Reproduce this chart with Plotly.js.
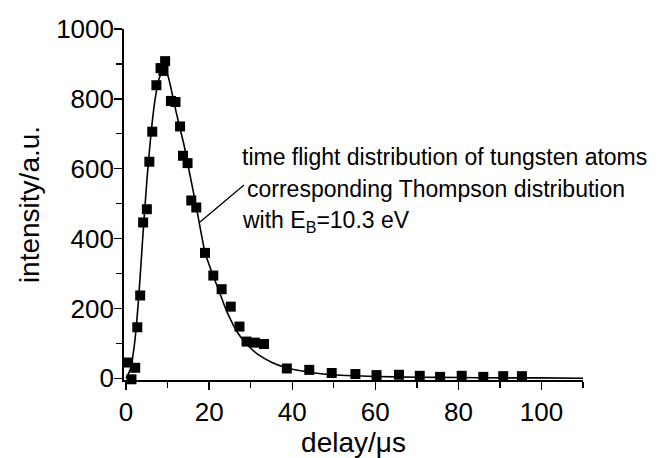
<!DOCTYPE html>
<html>
<head>
<meta charset="utf-8">
<script src="https://cdn.plot.ly/plotly-3.0.1.min.js"></script>
<style>
  html, body { margin: 0; padding: 0; background: #fff; }
  #chart { width: 662px; height: 458px; }
</style>
</head>
<body>
<div id="chart"></div>
<script>
// measured time-of-flight points (delay in µs, intensity in a.u.)
const delayMeasured = [-1, 0.5, 1.3, 2.2, 2.7, 3.4, 4.1, 5.0, 5.6, 6.3, 7.3, 8.3, 9.0, 9.4,
  10.8, 11.9, 13.0, 13.7, 14.8, 15.7, 16.9, 19.0, 21.0, 23.0, 25.2, 27.3, 29.0, 31.0, 33.2,
  38.7, 44.1, 49.5, 55.2, 60.3, 65.7, 70.7, 75.6, 80.8, 86.0, 90.8, 95.3];
const intensityMeasured = [16, 45, -3, 30, 146, 237, 446, 484, 620, 706, 839, 888, 880, 908,
  794, 791, 721, 637, 616, 509, 489, 359, 294, 255, 205, 148, 105, 102, 98,
  28, 24, 15, 12, 9, 10, 7, 4, 7, 4, 6, 6];

// Thompson distribution fit
const delayFit = [0, 1, 2, 3, 4, 5, 6, 7, 8, 9, 10, 11, 12, 13, 14, 15, 16, 17, 18, 19, 20,
  21, 22, 23, 24, 25, 26, 27, 28, 30, 32, 35, 38, 40, 45, 50, 60, 70, 80, 90, 100, 110];
const intensityFit = [0, 25, 95, 225, 400, 565, 700, 800, 860, 882, 868, 820, 765, 715, 665,
  605, 545, 485, 420, 360, 325, 292, 262, 230, 198, 172, 148, 128, 112, 86, 66, 46, 32, 26,
  16, 10, 5, 3, 2, 1, 1, 0];

const xTickVals = [0, 20, 40, 60, 80, 100];
const yTickVals = [0, 200, 400, 600, 800, 1000];

const legendLines = [
  'time flight distribution of tungsten atoms',
  'corresponding Thompson distribution',
  'with E<sub>B</sub>=10.3 eV'
];

const FONT = 'Liberation Sans, Arial, Helvetica, sans-serif';

const traces = [
  {
    x: delayFit, y: intensityFit, type: 'scatter', mode: 'lines',
    line: { color: '#000', width: 1.6, shape: 'spline', smoothing: 0.6 },
    hoverinfo: 'skip', showlegend: false
  },
  {
    x: delayMeasured, y: intensityMeasured, type: 'scatter', mode: 'markers',
    marker: { symbol: 'square', size: 10, color: '#000' },
    cliponaxis: false, showlegend: false
  }
];

// pixel helpers for the annotation block (plot area 124..583 x 29..380)
const px = v => (v - 124) / 459;
const py = v => 1 - (v - 29) / 351;

const layout = {
  width: 662, height: 458,
  margin: { l: 124, r: 79, t: 29, b: 78 },
  paper_bgcolor: '#fff', plot_bgcolor: '#fff',
  font: { family: FONT, color: '#000', size: 24 },
  showlegend: false,
  xaxis: {
    range: [-0.5, 110],
    tickvals: xTickVals,
    ticktext: xTickVals.map(String),
    ticks: 'outside', ticklen: 8, tickwidth: 1.4, tickcolor: '#000',
    minor: { dtick: 10, tick0: 0, ticks: 'outside', ticklen: 6, tickwidth: 1.3, tickcolor: '#000', showgrid: false },
    showline: true, linecolor: '#000', linewidth: 1.8,
    showgrid: false, zeroline: false,
    tickfont: { size: 26, family: FONT, color: '#000' },
    title: { text: 'delay/μs', font: { size: 28, family: FONT, color: '#000' }, standoff: 0 }
  },
  yaxis: {
    range: [-5, 1000],
    tickvals: yTickVals,
    ticktext: yTickVals.map(String),
    ticks: 'outside', ticklen: 8, tickwidth: 1.4, tickcolor: '#000',
    minor: { dtick: 100, tick0: 0, ticks: 'outside', ticklen: 6, tickwidth: 1.3, tickcolor: '#000', showgrid: false },
    showline: true, linecolor: '#000', linewidth: 1.8,
    showgrid: false, zeroline: false,
    ticklabelstandoff: -5,
    tickfont: { size: 26, family: FONT, color: '#000' },
    title: { text: 'intensity/a.u.', font: { size: 28, family: FONT, color: '#000' }, standoff: 8 }
  },
  annotations: [
    {
      xref: 'paper', yref: 'paper', x: px(240), y: py(157),
      xanchor: 'left', yanchor: 'middle', showarrow: false,
      text: legendLines[0], font: { size: 23, family: FONT, color: '#000' }
    },
    {
      xref: 'paper', yref: 'paper', x: px(245), y: py(189),
      xanchor: 'left', yanchor: 'middle', showarrow: false,
      text: legendLines[1], font: { size: 23, family: FONT, color: '#000' }
    },
    {
      xref: 'paper', yref: 'paper', x: px(240), y: py(221),
      xanchor: 'left', yanchor: 'middle', showarrow: false,
      text: legendLines[2], font: { size: 23, family: FONT, color: '#000' }
    }
  ],
  shapes: [
    {
      type: 'line', xref: 'paper', yref: 'paper',
      x0: px(244), y0: py(185), x1: px(200), y1: py(222),
      line: { color: '#000', width: 1.3 }
    }
  ]
};

Plotly.newPlot('chart', traces, layout, { displayModeBar: false, staticPlot: true });
</script>
</body>
</html>
